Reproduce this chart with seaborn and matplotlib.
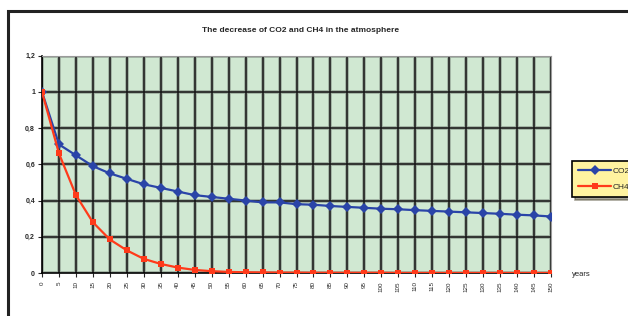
import matplotlib
matplotlib.use("Agg")
import matplotlib.pyplot as plt
import seaborn as sns
import pandas as pd
from matplotlib.patches import Rectangle
from matplotlib.ticker import FuncFormatter

years = [0, 5, 10, 15, 20, 25, 30, 35, 40, 45, 50, 55, 60, 65, 70, 75,
         80, 85, 90, 95, 100, 105, 110, 115, 120, 125, 130, 135, 140, 145, 150]
co2 = [1.00, 0.71, 0.65, 0.59, 0.55, 0.52, 0.49, 0.47, 0.45, 0.43, 0.42,
       0.41, 0.40, 0.39, 0.39, 0.38, 0.377, 0.37, 0.365, 0.36, 0.355, 0.352,
       0.347, 0.343, 0.339, 0.335, 0.331, 0.327, 0.322, 0.318, 0.312]
ch4 = [1.00, 0.66, 0.43, 0.28, 0.185, 0.125, 0.078, 0.05, 0.03, 0.017,
       0.01, 0.006, 0.004, 0.003, 0.002, 0.002, 0.001, 0.001, 0.001, 0.001,
       0.001, 0.0, 0.0, 0.0, 0.0, 0.0, 0.0, 0.0, 0.0, 0.0, 0.0]
series_names = ["CO2", "CH4"]
title = "The decrease of CO2 and CH4 in the atmosphere"

sns.set_style("white")
plt.rcParams['font.family'] = ['Liberation Sans', 'DejaVu Sans']

df = pd.DataFrame({
    "year": years * 2,
    "value": co2 + ch4,
    "gas": [series_names[0]] * len(years) + [series_names[1]] * len(years),
})

fig = plt.figure(figsize=(6.28, 3.16), dpi=100)
ax = fig.add_axes([42 / 628, 1 - 273 / 316, (551 - 42) / 628, (273 - 55.7) / 316])
ax.set_facecolor("#d0e8d2")

sns.lineplot(data=df, x="year", y="value", hue="gas", style="gas",
             palette={"CO2": "#2a44a8", "CH4": "#ff3a1a"},
             markers={"CO2": "D", "CH4": "s"}, dashes=False,
             markersize=5, linewidth=1.6, markeredgewidth=0,
             ax=ax, zorder=5)

ax.set_xlim(0, 150)
ax.set_ylim(0, 1.2)
ax.set_xticks(years)
ax.set_xticklabels([str(y) for y in years], rotation=90, fontsize=4.5)
ax.set_yticks([0, 0.2, 0.4, 0.6, 0.8, 1.0, 1.2])
ax.yaxis.set_major_formatter(FuncFormatter(
    lambda v, p: "0" if abs(v) < 1e-9 else ("1" if abs(v - 1) < 1e-9 else f"{v:.1f}".replace(".", ","))))
ax.tick_params(axis="y", labelsize=5, length=3, width=0.8, pad=2, direction="out", left=True)
ax.tick_params(axis="x", length=3, width=0.8, pad=3, direction="out", bottom=True)
for lab in ax.get_yticklabels():
    lab.set_fontweight("bold")

ax.grid(True, color="#9aaa9c", linewidth=2.6, zorder=0)
for y in [0.2, 0.4, 0.6, 0.8, 1.0, 1.2]:
    ax.axhline(y, color="#151515", linewidth=1.1, zorder=1)
for x in years:
    ax.axvline(x, color="#151515", linewidth=1.1, zorder=1)
ax.set_axisbelow(True)

for s in ["left", "bottom"]:
    ax.spines[s].set_color("black")
    ax.spines[s].set_linewidth(1.2)
for s in ["top", "right"]:
    ax.spines[s].set_color("#9a9a9a")
    ax.spines[s].set_linewidth(0.8)

ax.set_xlabel("")
ax.set_ylabel("")

handles, labels = ax.get_legend_handles_labels()
ax.legend(handles, labels, loc="upper left",
          bbox_to_anchor=(568 / 628, 1 - 157 / 316), bbox_transform=fig.transFigure,
          fontsize=6, frameon=True, facecolor="#fff3a0", edgecolor="black",
          framealpha=1, fancybox=False, shadow=True, handlelength=4,
          borderpad=0.7, labelspacing=1.0, handletextpad=0.1)
ax.get_legend().get_frame().set_linewidth(1.2)

fig.text(301 / 628, 1 - 30 / 316, title, ha="center", va="center",
         fontsize=6, fontweight="bold")
fig.text(572 / 628, 1 - 275 / 316, "years", ha="left", va="center", fontsize=5.5)

fig.patches.append(Rectangle((8 / 628, -0.2), 1.2, 1.2 - 11 / 316 + 0.0,
                             transform=fig.transFigure, fill=False,
                             edgecolor="#222222", linewidth=2.2))

fig.savefig("out.png", dpi=100)
